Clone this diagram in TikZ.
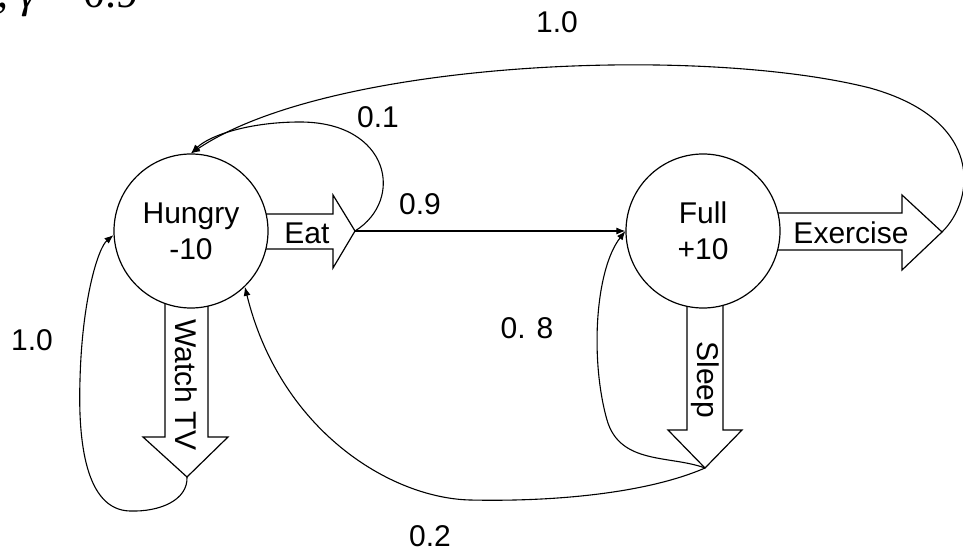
\documentclass[tikz,border=0pt]{standalone}
\usepackage{fontspec}
\setmainfont{Liberation Sans}
\newfontfamily\tnr{Liberation Serif}
\usetikzlibrary{arrows.meta}
\begin{document}
\begin{tikzpicture}[x=1pt,y=-1pt,
  lw/.style={line width=1.2pt},
  state/.style={circle,draw,lw,fill=white,minimum size=154pt,inner sep=0pt,align=center,font=\fontsize{30}{36}\selectfont},
  blockarr/.style={draw,lw,fill=white,line join=miter},
  lbl/.style={font=\fontsize{30}{36}\selectfont,inner sep=0pt},
  conn/.style={line width=1.1pt,-{Latex[length=9pt,width=7pt]}}
]
\useasboundingbox (0,0) rectangle (963,553);
\fill[white] (0,0) rectangle (963,553);
\clip (0,0) rectangle (963,553);

% discount factor (cut by the top edge, as in the reference)
\node[anchor=base west,inner sep=0pt,font=\tnr\fontsize{44}{46}\selectfont] (gamma) at (-3,8) {, {\itshape γ} = 0.9};

% block arrows (actions)
\draw[blockarr] (250,214) -- (333,214) -- (333,195) -- (355,231) -- (333,268) -- (333,249) -- (250,249) -- cycle;
\coordinate (eattip) at (355,231);
\draw[blockarr] (765,213) -- (902,213) -- (902,195) -- (942,232) -- (902,270) -- (902,250) -- (765,250) -- cycle;
\coordinate (extip) at (942,232);
\draw[blockarr] (165,290) -- (165,437) -- (143,437) -- (187,477) -- (228,437) -- (208,437) -- (208,290) -- cycle;
\coordinate (tvtip) at (187,477);
\draw[blockarr] (687,290) -- (687,430) -- (668,430) -- (705,468) -- (742,430) -- (723,430) -- (723,290) -- cycle;
\coordinate (sleeptip) at (705,468);

% states
\node[state] (hungry) at (191,231) {Hungry\\-10};
\node[state] (full) at (703,231) {Full\\+10};

% action labels
\node[lbl] (eatlbl) at (307,233) {Eat};
\node[lbl] (exlbl) at (851,233) {Exercise};
\node[lbl,rotate=-90] (tvlbl) at (186,385) {Watch TV};
\node[lbl,rotate=-90] (sleeplbl) at (705,380) {Sleep};

% transitions
\draw[conn] (eattip) -- (full.west);
\draw[conn] (eattip) .. controls (405,200) and (390,122) .. (300,122) .. controls (250,122) and (210,135) .. (hungry.north);
\draw[conn] (extip) .. controls (975,200) and (985,120) .. (870,88) .. controls (700,45) and (330,60) .. (hungry.north);
\draw[conn] (tvtip) .. controls (188,500) and (160,512) .. (130,511) .. controls (85,510) and (78,440) .. (80,380) .. controls (82,300) and (98,248) .. (hungry.183);
\draw[conn] (sleeptip) .. controls (670,455) and (620,465) .. (607,420) .. controls (590,360) and (595,270) .. (full.west);
\draw[conn] (sleeptip) .. controls (650,492) and (560,502) .. (470,500) .. controls (390,498) and (280,430) .. (hungry.-46);

% probabilities
\node[lbl] (p10top) at (557,22) {1.0};
\node[lbl] (p01) at (378,117) {0.1};
\node[lbl] (p09) at (420,204) {0.9};
\node[lbl] (p08) at (527,328) {0. 8};
\node[lbl] (p10left) at (32,340) {1.0};
\node[lbl] (p02) at (430,536) {0.2};
\end{tikzpicture}
\end{document}
